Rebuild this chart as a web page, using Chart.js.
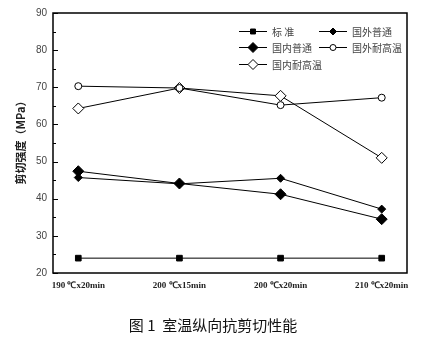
<!DOCTYPE html>
<html>
<head>
<meta charset="utf-8">
<script src="https://cdn.jsdelivr.net/npm/chart.js@4/dist/chart.umd.min.js"></script>
<style>
  html, body { margin: 0; padding: 0; background: #fff; }
  #wrap { width: 428px; height: 341px; position: relative; }
</style>
</head>
<body>
<div id="wrap"><canvas id="shearChart" width="428" height="341"></canvas></div>
<script>
// categories and series
const categories = ['190 ℃x20min', '200 ℃x15min', '200 ℃x20min', '210 ℃x20min'];
const standard = [24, 24, 24, 24];
const foreignNormal = [45.7, 44.0, 45.5, 37.2];
const domesticNormal = [47.4, 44.1, 41.2, 34.5];
const foreignHighTemp = [70.3, 69.8, 65.2, 67.2];
const domesticHighTemp = [64.3, 69.8, 67.7, 51.0];
const yTicks = [20, 30, 40, 50, 60, 70, 80, 90];

const caption = '图 1  室温纵向抗剪切性能';
const yTitle = '剪切强度（MPa）';

const toPoints = arr => arr.map((v, i) => ({ x: i, y: v }));

const series = [
    { label: '标 准', data: standard, style: 'rect', radius: 4, fill: true },
    { label: '国外普通', data: foreignNormal, style: 'rectRot', radius: 4, fill: true },
    { label: '国内普通', data: domesticNormal, style: 'rectRot', radius: 5.5, fill: true },
    { label: '国外耐高温', data: foreignHighTemp, style: 'circle', radius: 3.5, fill: false },
    { label: '国内耐高温', data: domesticHighTemp, style: 'rectRot', radius: 5.5, fill: false }
];

// frame, inward ticks, legend, axis title and caption
const decorations = {
    id: 'decorations',
    afterDraw(chart) {
        const ctx = chart.ctx;
        const a = chart.chartArea;
        const y = chart.scales.y;
        ctx.save();
        ctx.strokeStyle = '#000';
        ctx.lineWidth = 1.5;
        ctx.strokeRect(a.left, a.top, a.right - a.left, a.bottom - a.top);

        ctx.lineWidth = 1;
        for (let v = 20; v <= 90; v += 5) {
            const py = Math.round(y.getPixelForValue(v)) + 0.5;
            ctx.beginPath();
            ctx.moveTo(a.left, py);
            ctx.lineTo(a.left + (v % 10 === 0 ? 5 : 3), py);
            ctx.stroke();
        }

        // legend
        const cols = [239, 319];
        const rows = [31, 47, 64];
        ctx.font = '10px "Noto Sans CJK SC", sans-serif';
        ctx.textBaseline = 'middle';
        series.forEach((s, i) => {
            const x0 = cols[i % 2];
            const yy = rows[Math.floor(i / 2)];
            ctx.strokeStyle = '#000';
            ctx.lineWidth = 1;
            ctx.beginPath();
            ctx.moveTo(x0, yy + 0.5);
            ctx.lineTo(x0 + 28, yy + 0.5);
            ctx.stroke();
            ctx.fillStyle = s.fill ? '#000' : '#fff';
            Chart.helpers.drawPoint(ctx, {
                pointStyle: s.style, radius: s.radius - 0.5, borderWidth: 1
            }, x0 + 14, yy + 0.5);
            ctx.fillStyle = '#444';
            ctx.fillText(s.label, x0 + 33, yy + 1);
        });

        // y axis title
        ctx.save();
        ctx.translate(21, 140);
        ctx.rotate(-Math.PI / 2);
        ctx.font = 'bold 11px "Noto Sans CJK SC", sans-serif';
        ctx.fillStyle = '#222';
        ctx.textAlign = 'center';
        ctx.textBaseline = 'middle';
        ctx.fillText(yTitle, 0, 0);
        ctx.restore();

        // caption
        ctx.font = '15px "Noto Sans CJK SC", sans-serif';
        ctx.fillStyle = '#111';
        ctx.textAlign = 'center';
        ctx.textBaseline = 'middle';
        ctx.fillText(caption, 213, 325);
        ctx.restore();
    }
};

new Chart(document.getElementById('shearChart'), {
    type: 'line',
    data: {
        datasets: series.map(s => ({
            label: s.label,
            data: toPoints(s.data),
            borderColor: '#000',
            borderWidth: 1,
            pointStyle: s.style,
            pointRadius: s.radius,
            pointBorderColor: '#000',
            pointBorderWidth: 1,
            pointBackgroundColor: s.fill ? '#000' : '#fff',
            tension: 0
        }))
    },
    options: {
        responsive: false,
        animation: false,
        events: [],
        layout: { padding: { top: 13, right: 21, left: 0, bottom: 0 } },
        plugins: { legend: { display: false }, tooltip: { enabled: false } },
        scales: {
            x: {
                type: 'linear',
                min: -0.25,
                max: 3.25,
                afterBuildTicks: s => { s.ticks = categories.map((c, i) => ({ value: i })); },
                afterFit: s => { s.height = 68; },
                grid: { display: false, drawTicks: false },
                border: { display: false },
                ticks: {
                    callback: v => categories[v],
                    maxRotation: 0,
                    padding: 7,
                    color: '#222',
                    font: { family: '"Liberation Serif", serif', size: 9, weight: 'bold' }
                }
            },
            y: {
                min: 20,
                max: 90,
                afterBuildTicks: s => { s.ticks = yTicks.map(v => ({ value: v })); },
                afterFit: s => { s.width = 53; },
                grid: { display: false, drawTicks: false },
                border: { display: false },
                ticks: {
                    padding: 6,
                    color: '#444',
                    font: { family: '"Liberation Sans", sans-serif', size: 10 }
                }
            }
        }
    },
    plugins: [decorations]
});
</script>
</body>
</html>
